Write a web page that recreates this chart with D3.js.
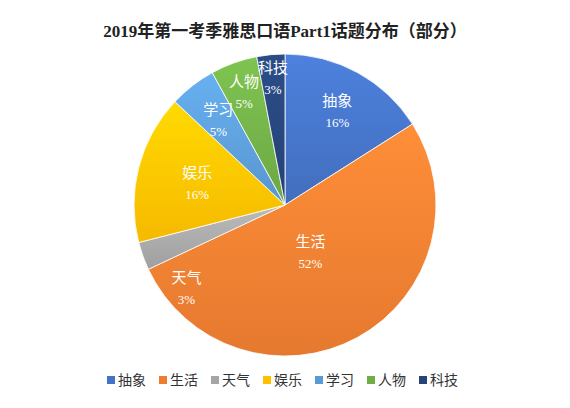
<!DOCTYPE html><html><head><meta charset="utf-8"><script src="https://cdn.jsdelivr.net/npm/d3@7"></script>
<style>body{margin:0;background:#fff}</style></head><body><svg id="c" width="570" height="408"></svg>
<script>
const categories=["抽象","生活","天气","娱乐","学习","人物","科技"];
const values=[16,52,3,16,5,5,3];
const colors=["#4472C4","#ED7D31","#A5A5A5","#FFC000","#5B9BD5","#70AD47","#264478"];
const svg=d3.select("#c");
const font="'Liberation Serif','Noto Sans CJK SC',serif";
svg.append("text").attr("x",285).attr("y",37).attr("text-anchor","middle").attr("font-family",font).attr("font-weight","bold").attr("font-size",17).attr("fill","#222").text("2019年第一考季雅思口语Part1话题分布（部分）");
const cx=285,cy=205,r=151;
const defs=svg.append("defs");
colors.forEach((c,i)=>{const g=defs.append("linearGradient").attr("id","g"+i).attr("x1",0).attr("y1",0).attr("x2",0).attr("y2",1);
g.append("stop").attr("offset","0").attr("stop-color",d3.color(c).brighter(0.35));
g.append("stop").attr("offset","1").attr("stop-color",d3.color(c).darker(0.1));});
const pie=d3.pie().sort(null).value(d=>d)(values);
const arc=d3.arc().innerRadius(0).outerRadius(r);
const g=svg.append("g").attr("transform",`translate(${cx},${cy})`);
g.selectAll("path").data(pie).join("path").attr("d",arc).attr("fill",(d,i)=>`url(#g${i})`).attr("stroke","#fff").attr("stroke-width",0.8);
const lr=[0.72,0.35,0.85,0.6,0.72,0.8,0.85];
const la=[0,0,-0.35,0,0,0,0];
pie.forEach((d,i)=>{const a=(d.startAngle+d.endAngle)/2+la[i];const x=Math.sin(a)*r*lr[i],y=-Math.cos(a)*r*lr[i];
const t=g.append("text").attr("text-anchor","middle").attr("font-family",font).attr("fill","#fff").attr("font-size",15);
t.append("tspan").attr("x",x).attr("y",y-4).text(categories[i]);
t.append("tspan").attr("x",x).attr("y",y+17).attr("font-size",13).text(values[i]+"%");});
const lg=svg.append("g").attr("transform","translate(0,381)");
let x0=107;
categories.forEach((c,i)=>{lg.append("rect").attr("x",x0).attr("y",-5).attr("width",8).attr("height",8).attr("fill",colors[i]);
lg.append("text").attr("x",x0+11).attr("y",4).attr("font-family",font).attr("font-size",14).attr("fill","#333").text(c);x0+=c.length*14+11+13;});
</script></body></html>
